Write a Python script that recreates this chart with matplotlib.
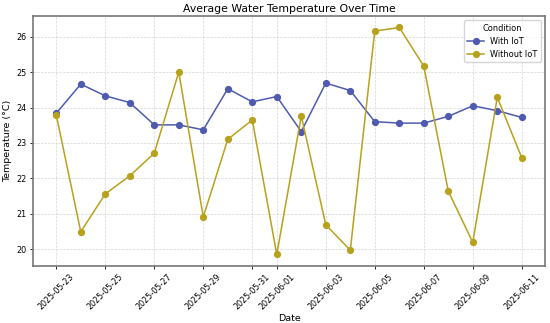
import numpy as np
import pandas as pd
import matplotlib
matplotlib.use('Agg')
import matplotlib.pyplot as plt
import matplotlib.dates as mdates

# data =========================================================================
dates = pd.date_range('2025-05-23', '2025-06-11', freq='D')
with_iot = [23.84, 24.66, 24.33, 24.14, 23.51, 23.51, 23.37, 24.53, 24.16, 24.31,
            23.32, 24.69, 24.48, 23.60, 23.56, 23.56, 23.75, 24.05, 23.91, 23.72]
without_iot = [23.79, 20.49, 21.56, 22.07, 22.71, 25.00, 20.91, 23.10, 23.65, 19.85,
               23.76, 20.69, 19.97, 26.16, 26.26, 25.17, 21.64, 20.19, 24.29, 22.58]
series_labels = ['With IoT', 'Without IoT']
colors = ['#4f5bb0', '#b8a11c']

fig = plt.figure(figsize=(5.5, 3.23), dpi=100)
ax = fig.add_axes([0.06, 0.177, 0.931, 0.773])

for vals, lab, c in zip([with_iot, without_iot], series_labels, colors):
    ax.plot(dates, vals, marker='o', markersize=4.2, linewidth=1.1, color=c, label=lab)

ax.xaxis.set_major_locator(mdates.DayLocator(bymonthday=[1, 3, 5, 7, 9, 11, 23, 25, 27, 29, 31]))
ax.xaxis.set_major_formatter(mdates.DateFormatter('%Y-%m-%d'))
plt.setp(ax.get_xticklabels(), rotation=45, ha='center', fontsize=5.8)
ax.tick_params(axis='both', length=2.5, width=0.6, pad=2)
ax.tick_params(axis='y', labelsize=5.8)
ax.set_yticks([20, 21, 22, 23, 24, 25, 26])

ax.grid(True, linestyle='--', color='#cccccc', linewidth=0.5, alpha=0.8)
for s in ax.spines.values():
    s.set_color('#777777')
    s.set_linewidth(1.2)

ax.set_title('Average Water Temperature Over Time', fontsize=7.8, pad=3)
ax.set_xlabel('Date', fontsize=6.8, labelpad=2)
ax.set_ylabel('Temperature (°C)', fontsize=6.8, labelpad=3)
leg = ax.legend(title='Condition', fontsize=5.9, title_fontsize=5.9, loc='upper right')

fig.savefig('out.png', dpi=100)
